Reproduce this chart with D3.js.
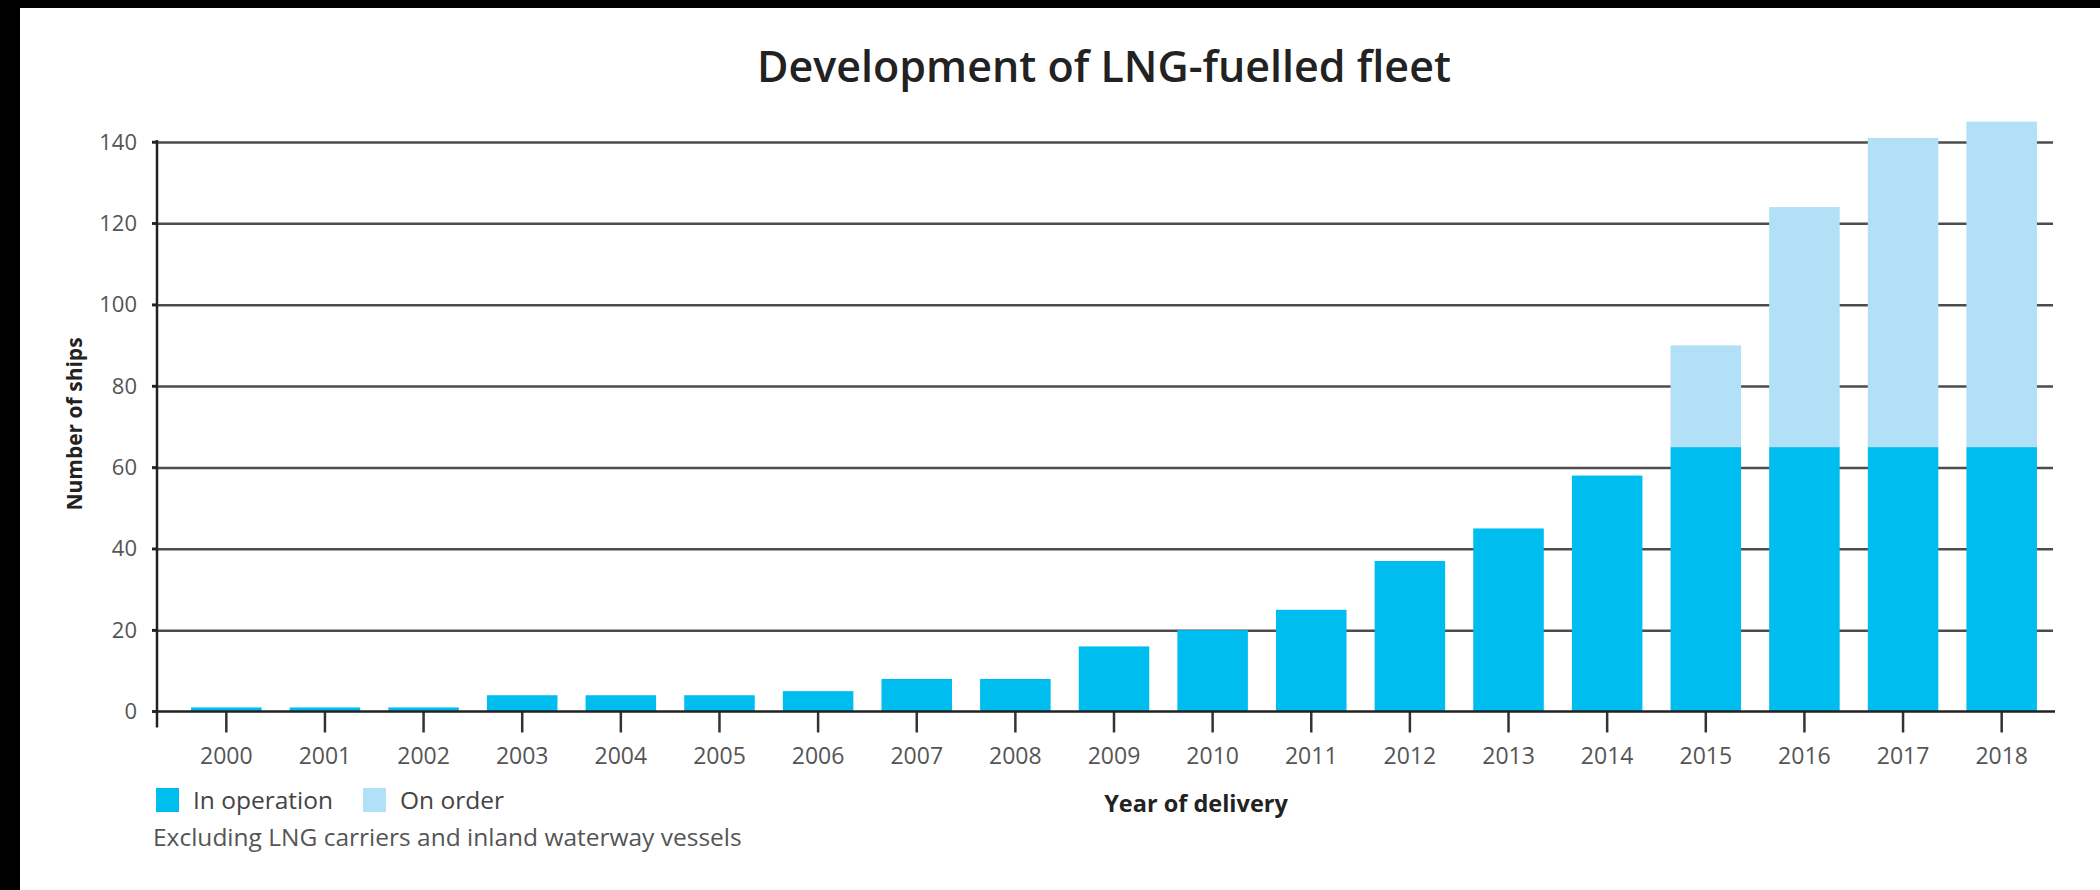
<!DOCTYPE html>
<html>
<head>
<meta charset="utf-8">
<title>Development of LNG-fuelled fleet</title>
<script src="https://d3js.org/d3.v7.min.js"></script>
<style>
  body { margin: 0; background: #000; }
  svg { display: block; font-family: "Open Sans", sans-serif; }
  .grid line { stroke: #4d4d4d; stroke-width: 2.5; }
  .grid .domain { stroke: none; }
  .tick text { fill: #555; }
</style>
</head>
<body>
<svg id="chart" width="2100" height="890"></svg>
<script>
  // data
  const years = ["2000", "2001", "2002", "2003", "2004", "2005", "2006", "2007", "2008", "2009",
    "2010", "2011", "2012", "2013", "2014", "2015", "2016", "2017", "2018"];
  const inOperation = [1, 1, 1, 4, 4, 4, 5, 8, 8, 16, 20, 25, 37, 45, 58, 65, 65, 65, 65];
  const onOrder = [0, 0, 0, 0, 0, 0, 0, 0, 0, 0, 0, 0, 0, 0, 0, 25, 59, 76, 80];
  const yTicks = [0, 20, 40, 60, 80, 100, 120, 140];
  const seriesNames = ["In operation", "On order"];
  const colors = ["#00bdef", "#b1e0f7"];

  const svg = d3.select("svg#chart");

  // white page with the black frame of the scan on the left and top
  svg.append("rect").attr("x", 20).attr("y", 8).attr("width", 2080).attr("height", 882).attr("fill", "#fff");

  const plot = { left: 157, right: 2053, top: 142, bottom: 711.5 };

  const x = d3.scaleBand().domain(years).range([177, 2051]).paddingInner(0.285).paddingOuter(0.1425);
  const y = d3.scaleLinear().domain([0, 140]).range([plot.bottom, plot.top]);

  // gridlines (drawn under the bars)
  svg.append("g")
    .attr("class", "grid")
    .attr("transform", `translate(${plot.left - 5},0)`)
    .call(d3.axisLeft(y).tickValues(yTicks.slice(1)).tickSize(-(plot.right - plot.left + 5)).tickFormat(""));

  // stacked bars
  const rows = years.map((yr, i) => ({ year: yr, op: inOperation[i], ord: onOrder[i] }));
  const stacked = d3.stack().keys(["op", "ord"])(rows);

  svg.append("g").selectAll("g").data(stacked).join("g")
    .attr("fill", (d, i) => colors[i])
    .selectAll("rect").data(d => d.filter(s => s[1] > s[0])).join("rect")
    .attr("x", d => x(d.data.year))
    .attr("y", d => y(d[1]))
    .attr("width", x.bandwidth())
    .attr("height", d => y(d[0]) - y(d[1]));

  // y axis labels
  const left = svg.append("g")
    .attr("transform", `translate(${plot.left},0)`)
    .call(d3.axisLeft(y).tickValues(yTicks).tickSize(0).tickPadding(20));
  left.select(".domain").remove();
  left.selectAll("text").attr("font-size", 22).attr("font-family", "Open Sans");

  // y ticks + axis line
  svg.append("g").selectAll("line").data(yTicks).join("line")
    .attr("x1", plot.left - 5).attr("x2", plot.left)
    .attr("y1", d => y(d)).attr("y2", d => y(d))
    .attr("stroke", "#222").attr("stroke-width", 2.5);
  svg.append("line")
    .attr("x1", plot.left).attr("x2", plot.left)
    .attr("y1", y(140) - 2).attr("y2", plot.bottom + 16)
    .attr("stroke", "#222").attr("stroke-width", 2.5);

  // x axis
  const bottom = svg.append("g")
    .attr("transform", `translate(0,${plot.bottom})`)
    .call(d3.axisBottom(x).tickSize(21).tickPadding(15).tickSizeOuter(0));
  bottom.select(".domain").remove();
  bottom.selectAll("line").attr("stroke", "#333").attr("stroke-width", 2.5);
  bottom.selectAll("text").attr("font-size", 23).attr("font-family", "Open Sans");
  svg.append("line")
    .attr("x1", plot.left - 5).attr("x2", plot.right + 2)
    .attr("y1", plot.bottom).attr("y2", plot.bottom)
    .attr("stroke", "#222").attr("stroke-width", 2.5);

  // title
  svg.append("text")
    .attr("x", 1104).attr("y", 82)
    .attr("text-anchor", "middle")
    .attr("font-size", 43).attr("font-weight", 600)
    .attr("fill", "#222")
    .text("Development of LNG-fuelled fleet");

  // axis titles
  svg.append("text")
    .attr("transform", "translate(82,424) rotate(-90)")
    .attr("text-anchor", "middle")
    .attr("font-size", 21).attr("font-weight", 700)
    .attr("fill", "#222")
    .text("Number of ships");

  svg.append("text")
    .attr("x", 1196).attr("y", 812)
    .attr("text-anchor", "middle")
    .attr("font-size", 23.5).attr("font-weight", 700)
    .attr("fill", "#222")
    .text("Year of delivery");

  // legend
  const legendX = [156, 363];
  const legend = svg.append("g").selectAll("g").data(seriesNames).join("g")
    .attr("transform", (d, i) => `translate(${legendX[i]},788)`);
  legend.append("rect").attr("width", 23).attr("height", 24).attr("fill", (d, i) => colors[i]);
  legend.append("text").attr("x", 37).attr("y", 21)
    .attr("font-size", 24.5).attr("fill", "#444").text(d => d);

  svg.append("text")
    .attr("x", 153).attr("y", 846)
    .attr("font-size", 24.5).attr("fill", "#555")
    .text("Excluding LNG carriers and inland waterway vessels");
</script>
</body>
</html>
